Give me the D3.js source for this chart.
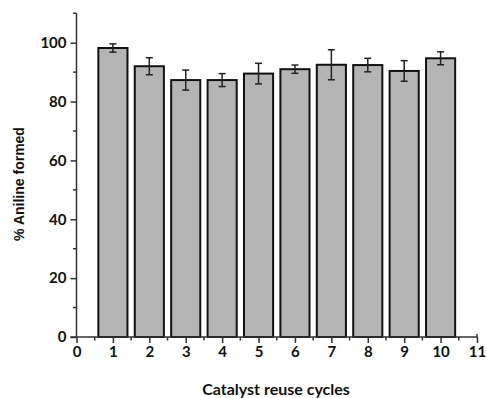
<!DOCTYPE html>
<html><head><meta charset="utf-8">
<script src="https://cdn.jsdelivr.net/npm/d3@7"></script>
<style>body{margin:0;background:#fff}svg{display:block}</style>
</head><body>
<script>
const cycles = [1,2,3,4,5,6,7,8,9,10];
const aniline = [98.2,92.0,87.3,87.3,89.5,91.0,92.5,92.4,90.4,94.7];
const errors = [1.4,2.9,3.4,2.2,3.5,1.4,5.1,2.3,3.5,2.2];
const xTicks = [0,1,2,3,4,5,6,7,8,9,10,11];
const yTicks = [0,20,40,60,80,100];

const W=486,H=398;
const svg=d3.select("body").append("svg").attr("width",W).attr("height",H);
const x=d3.scaleLinear().domain([0,11]).range([76.5,477]);
const y=d3.scaleLinear().domain([0,100]).range([337,42.7]);
const bw=(x(1)-x(0))*0.8;
const axisCol="#333";
const tickFont="Lato, 'Open Sans', sans-serif";

// bars
svg.append("g").selectAll("rect").data(cycles).join("rect")
  .attr("x",(d,i)=>x(d)-bw/2).attr("width",bw)
  .attr("y",(d,i)=>y(aniline[i])).attr("height",(d,i)=>y(0)-y(aniline[i]))
  .attr("fill","#b4b4b4").attr("stroke","#111").attr("stroke-width",2);

// error bars
const eg=svg.append("g").attr("stroke","#222").attr("stroke-width",1.5);
cycles.forEach((c,i)=>{
  const cx=x(c), t=y(aniline[i]+errors[i]), b=y(aniline[i]-errors[i]);
  eg.append("line").attr("x1",cx).attr("x2",cx).attr("y1",t).attr("y2",b);
  eg.append("line").attr("x1",cx-3.5).attr("x2",cx+3.5).attr("y1",t).attr("y2",t);
  eg.append("line").attr("x1",cx-3.5).attr("x2",cx+3.5).attr("y1",b).attr("y2",b);
});

// y axis
const yAxis=d3.axisLeft(y).tickValues(yTicks).tickSize(6).tickPadding(4);
const yg=svg.append("g").attr("transform",`translate(${x(0)},0)`).call(yAxis);
yg.select(".domain").remove();
svg.append("line").attr("x1",x(0)).attr("x2",x(0)).attr("y1",y(0)).attr("y2",y(110)).attr("stroke",axisCol).attr("stroke-width",1.5);
yg.selectAll(".tick line").attr("stroke",axisCol).attr("stroke-width",1.5);
yg.selectAll("text").attr("font-family",tickFont).attr("font-weight","bold").attr("font-size",15).attr("fill","#111");
const yMinor=d3.range(10,111,20);
svg.append("g").selectAll("line").data(yMinor).join("line")
  .attr("x1",x(0)-3.5).attr("x2",x(0)).attr("y1",d=>y(d)).attr("y2",d=>y(d))
  .attr("stroke",axisCol).attr("stroke-width",1.5);

// x axis
const xAxis=d3.axisBottom(x).tickValues(xTicks).tickSize(6).tickPadding(3).tickFormat(d3.format("d"));
const xg=svg.append("g").attr("transform",`translate(0,${y(0)})`).call(xAxis);
xg.select(".domain").remove();
svg.append("line").attr("x1",x(0)-6).attr("x2",x(11)).attr("y1",y(0)).attr("y2",y(0)).attr("stroke",axisCol).attr("stroke-width",1.5);
xg.selectAll(".tick line").attr("stroke",axisCol).attr("stroke-width",1.5);
xg.selectAll("text").attr("font-family",tickFont).attr("font-weight","bold").attr("font-size",15).attr("fill","#111");
const xMinor=d3.range(0.5,11,1);
svg.append("g").selectAll("line").data(xMinor).join("line")
  .attr("x1",d=>x(d)).attr("x2",d=>x(d)).attr("y1",y(0)).attr("y2",y(0)+3.5)
  .attr("stroke",axisCol).attr("stroke-width",1.5);
svg.append("line").attr("x1",x(11)).attr("x2",x(11)).attr("y1",y(0)-3).attr("y2",y(0)).attr("stroke",axisCol).attr("stroke-width",1.5);

// titles
svg.append("text").attr("x",276).attr("y",395).attr("text-anchor","middle")
  .attr("font-family",tickFont).attr("font-weight","bold").attr("font-size",16).attr("fill","#111")
  .text("Catalyst reuse cycles");
svg.append("text").attr("transform","translate(24,184) rotate(-90)").attr("text-anchor","middle")
  .attr("font-family","'Liberation Sans', Arial, sans-serif").attr("font-weight","bold").attr("font-size",14).attr("fill","#111")
  .text("% Aniline formed");
</script>
</body></html>
